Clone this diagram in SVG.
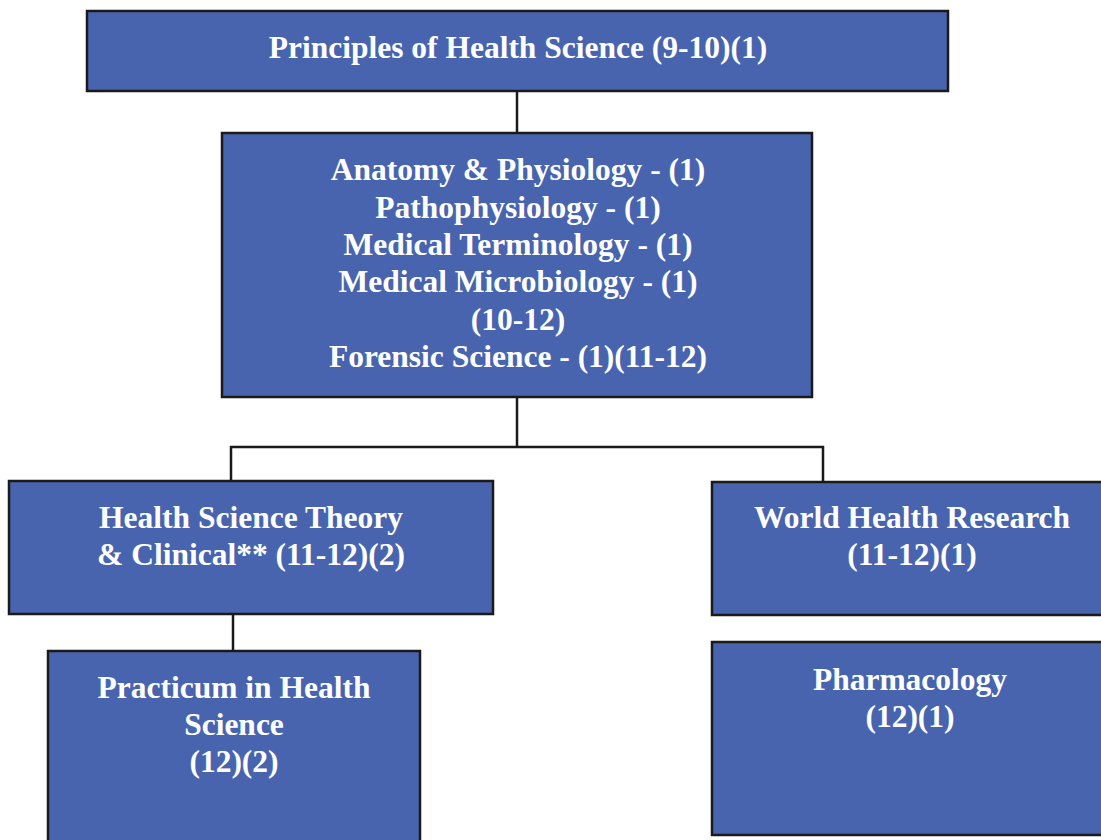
<svg xmlns="http://www.w3.org/2000/svg" width="1101" height="840" viewBox="0 0 1101 840">
<style>
.box{fill:#4864AF;stroke:#1a1a1a;stroke-width:2.5}
.t{font-family:"Liberation Serif","Times New Roman",serif;font-weight:bold;font-size:31.5px;fill:#ffffff;text-anchor:middle}
.c{fill:none;stroke:#1a1a1a;stroke-width:2.5}
</style>
<rect width="1101" height="840" fill="#ffffff"/>
<g id="connectors">
<path class="c" d="M517 91V133"/>
<path class="c" d="M517 397V447H231V481M517 447H823V482"/>
<path class="c" d="M233 614V651"/>
</g>
<g id="n1">
<rect class="box" x="87" y="11" width="861" height="80"/>
<text class="t" x="518" y="58">Principles of Health Science (9-10)(1)</text>
</g>
<g id="n2">
<rect class="box" x="222" y="133" width="590" height="264"/>
<text class="t" x="518" y="180">Anatomy &amp; Physiology - (1)</text>
<text class="t" x="518" y="218">Pathophysiology - (1)</text>
<text class="t" x="518" y="255">Medical Terminology - (1)</text>
<text class="t" x="518" y="292">Medical Microbiology - (1)</text>
<text class="t" x="518" y="330">(10-12)</text>
<text class="t" x="518" y="367">Forensic Science - (1)(11-12)</text>
</g>
<g id="n3">
<rect class="box" x="9" y="481" width="484" height="133"/>
<text class="t" x="251" y="528">Health Science Theory</text>
<text class="t" x="251" y="565">&amp; Clinical** (11-12)(2)</text>
</g>
<g id="n4">
<rect class="box" x="712" y="482" width="400" height="133"/>
<text class="t" x="912" y="528">World Health Research</text>
<text class="t" x="912" y="565">(11-12)(1)</text>
</g>
<g id="n5">
<rect class="box" x="48" y="651" width="372" height="200"/>
<text class="t" x="234" y="698">Practicum in Health</text>
<text class="t" x="234" y="735">Science</text>
<text class="t" x="234" y="772">(12)(2)</text>
</g>
<g id="n6">
<rect class="box" x="712" y="642" width="400" height="193"/>
<text class="t" x="910" y="690">Pharmacology</text>
<text class="t" x="910" y="727">(12)(1)</text>
</g>
</svg>
